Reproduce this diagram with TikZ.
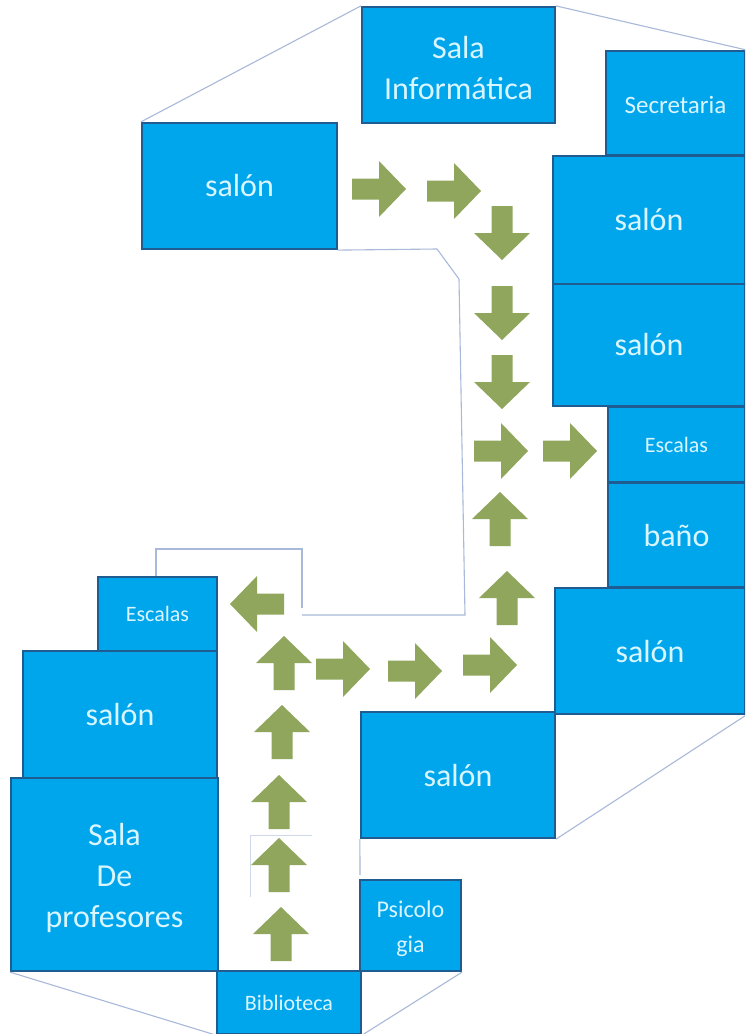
\documentclass[tikz,border=0pt]{standalone}
\usepackage{fontspec}
\setmainfont{Carlito}
\definecolor{roomfill}{HTML}{00A6EC}
\definecolor{roomedge}{HTML}{1F5C92}
\definecolor{roomtext}{HTML}{D9F5FF}
\definecolor{wallline}{HTML}{A9B9D9}
\definecolor{arrowgreen}{HTML}{8FA65C}
\tikzset{
  x=1pt,y=-1pt,
  room/.style={draw=roomedge,line width=2.2pt,fill=roomfill,text=roomtext,inner sep=0pt,align=center,anchor=center},
  bigtext/.style={font=\fontsize{32}{41}\selectfont},
  midtext/.style={font=\fontsize{25}{35}\selectfont},
  smalltext/.style={font=\fontsize{22}{26}\selectfont},
  wall/.style={draw=wallline,line width=1.1pt},
  faint/.style={draw=wallline!55,line width=0.7pt},
  garrow/.pic={\fill[arrowgreen] (-27,-10.5) -- (0,-10.5) -- (0,-28) -- (27,0) -- (0,28) -- (0,10.5) -- (-27,10.5) -- cycle;}
}
\begin{document}
\begin{tikzpicture}
\useasboundingbox (0,0) rectangle (745,1034);
\clip (0,0) rectangle (745,1034);
\fill[white] (0,0) rectangle (745,1034);
% rooms
\node[room,bigtext,minimum width=193pt,minimum height=116pt] (info) at (458.5,65) {\rule{0pt}{28pt}Sala\\Informática};
\node[room,midtext,minimum width=139pt,minimum height=104pt] (secre) at (675.5,103) {\rule{0pt}{22pt}Secretaria};
\node[room,bigtext,minimum width=195pt,minimum height=126pt] (s0) at (239.5,186) {salón};
\node[room,bigtext,minimum width=192pt,minimum height=128pt] (s1) at (649,220) {salón};
\node[room,bigtext,minimum width=192pt,minimum height=122pt] (s2) at (649,345) {salón};
\node[room,smalltext,minimum width=137pt,minimum height=75pt] (esc1) at (676.5,444.5) {Escalas};
\node[room,bigtext,minimum width=137pt,minimum height=104pt] (bano) at (676.5,535) {baño};
\node[room,bigtext,minimum width=190pt,minimum height=126pt] (s3) at (650,651) {salón};
\node[room,bigtext,minimum width=194pt,minimum height=126pt] (s4) at (458,775) {salón};
\node[room,smalltext,minimum width=119pt,minimum height=74pt] (esc2) at (157.5,614) {Escalas};
\node[room,bigtext,minimum width=194pt,minimum height=127pt] (s5) at (120,714.5) {salón};
\node[room,bigtext,minimum width=207pt,minimum height=193pt] (prof) at (114.5,874.5) {\rule{0pt}{30pt}Sala\\De\\profesores};
\node[room,midtext,font=\fontsize{24}{35}\selectfont,minimum width=101pt,minimum height=91pt] (psi) at (410.5,925.5) {\rule{0pt}{24pt}Psicolo\\gia};
\node[room,smalltext,minimum width=144pt,minimum height=63pt] (bib) at (289,1002.5) {Biblioteca};
% thin lines
\draw[wall] (s0.north west) -- (info.north west);
\draw[wall] (info.north east) -- (secre.north east);
\draw[wall] (s0.south east) -- (437,249) -- (459,279) -- (465,615) -- (302,615);
\draw[wall] (302,608) -- (302,549) -- (156,549) -- (esc2.north -| 156,577);
\draw[wall] (s4.south east) -- (s3.south east);
\draw[wall] (s4.south west) -- (360,875);
\draw[wall] (prof.south west) -- (bib.south west);
\draw[wall] (psi.south east) -- (bib.south east);
\draw[faint] (312,835) -- (250,835) -- (250,897);
% arrows
\foreach \px/\py in {379/189,454/191,501/451,570/451,490/665,415/671,343/669}
  \pic at (\px,\py) {garrow};
\foreach \px/\py in {502/233,502/313,502/382}
  \pic[rotate=-90] at (\px,\py) {garrow};
\foreach \px/\py in {500/519,507/598,284/663,282/732,279/802,279/865,281/934}
  \pic[rotate=90] at (\px,\py) {garrow};
\pic[rotate=180] at (257,604) {garrow};
\end{tikzpicture}
\end{document}
